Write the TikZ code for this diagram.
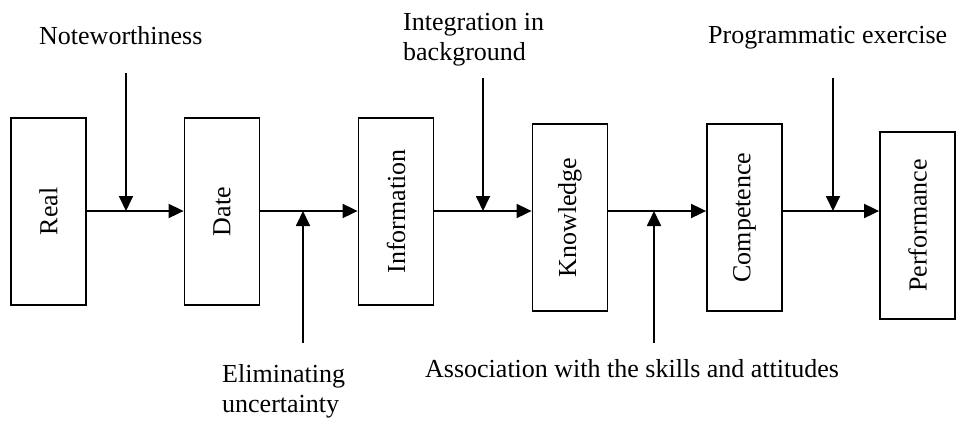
\documentclass[tikz,border=0pt]{standalone}
\usepackage{fontspec}
\usepackage{graphicx}
\setmainfont{Liberation Serif}
\usetikzlibrary{arrows.meta}
\tikzset{
  stage/.style={draw, line width=1.8pt, minimum width=75pt, minimum height=187pt, inner sep=0pt},
  arr/.style={line width=1.8pt, -{Triangle[length=15pt,width=14pt]}},
  lbl/.style={inner sep=0pt, anchor=base west, align=left}
}
\begin{document}
\begin{tikzpicture}[x=1pt,y=-1pt,font=\fontsize{26}{29.5}\selectfont]
\useasboundingbox (0,0) rectangle (956,421);
\node[stage] (real) at (48.5,211.5) {\rotatebox{90}{Real}};
\node[stage] (date) at (222,211.5) {\rotatebox{90}{Date}};
\node[stage] (info) at (396,211.5) {\rotatebox{90}{Information}};
\node[stage] (know) at (570,217.5) {\rotatebox{90}{Knowledge}};
\node[stage] (comp) at (744.5,217.5) {\rotatebox{90}{Competence}};
\node[stage] (perf) at (917.5,225.5) {\rotatebox{90}{Performance}};
\coordinate (mainy) at (0,211);
\draw[arr] (real.east |- mainy) -- (date.west |- mainy);
\draw[arr] (date.east |- mainy) -- (info.west |- mainy);
\draw[arr] (info.east |- mainy) -- (know.west |- mainy);
\draw[arr] (know.east |- mainy) -- (comp.west |- mainy);
\draw[arr] (comp.east |- mainy) -- (perf.west |- mainy);
\coordinate (s1) at (126,73);
\coordinate (s2) at (303,343);
\coordinate (s3) at (483,78);
\coordinate (s4) at (654,343);
\coordinate (s5) at (833,78);
\draw[arr] (s1) -- (s1 |- mainy);
\draw[arr] (s2) -- (s2 |- mainy);
\draw[arr] (s3) -- (s3 |- mainy);
\draw[arr] (s4) -- (s4 |- mainy);
\draw[arr] (s5) -- (s5 |- mainy);
\node[lbl] (t1) at (39,44) {Noteworthiness};
\node[lbl] (t2) at (403,60) {Integration in\\background};
\node[lbl] (t3) at (708,43) {Programmatic exercise};
\node[lbl] (t4) at (222,412) {Eliminating\\uncertainty};
\node[lbl] (t5) at (425,377) {Association with the skills and attitudes};
\end{tikzpicture}
\end{document}
